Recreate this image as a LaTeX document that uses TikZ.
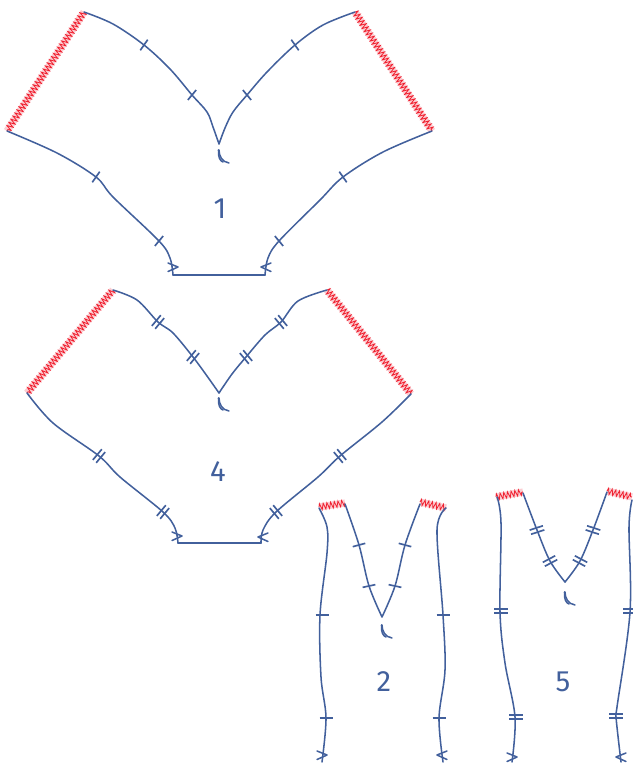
\documentclass[tikz,border=0pt]{standalone}
\usepackage{fontspec}
\setmainfont{Fira Sans}
\usetikzlibrary{decorations.pathmorphing}
\definecolor{seam}{HTML}{42609C}
\definecolor{zig}{HTML}{F0202F}
\definecolor{zigbg}{HTML}{FBCDD2}
\tikzset{
  seamline/.style={draw=seam,line width=1.15pt,line cap=round,line join=round},
  tickmark/.style={draw=seam,line width=1.25pt},
  piecelabel/.style={text=seam,font=\fontsize{22pt}{24pt}\selectfont,inner sep=0pt},
  zigband/.style={draw=zigbg,line width=5.4pt},
  zigline/.style={draw=zig,line width=.6pt,decorate,decoration={zigzag,segment length=2.8pt,amplitude=2.3pt}}
}
\newcommand{\sewn}[1]{\draw[seamline] plot[smooth,tension=.55] coordinates {#1};}
\newcommand{\tk}[3]{\draw[tickmark,shift={(#1,#2)},rotate=#3] (-6.5,0) -- (6.5,0);}
\newcommand{\dtk}[3]{\draw[tickmark,shift={(#1,#2)},rotate=#3] (-7,-2.2) -- (7,-2.2) (-7,2.2) -- (7,2.2);}
\newcommand{\zz}[4]{\draw[zigband] (#1,#2) -- (#3,#4); \draw[zigline] (#1,#2) -- (#3,#4);}
\newcommand{\notchmark}[2]{\begin{scope}[shift={(#1,#2)}]
  \draw[seamline] (0,0) .. controls (0,6) and (3,12) .. (10,13);
  \draw[seamline] (-.5,0) .. controls (-1,7) and (1,11) .. (4,12);
\end{scope}}
\newcommand{\gt}[3]{\draw[seamline] (#1-10,#2-4) -- (#1,#2) -- (#1-10,#2+4.5);}
\newcommand{\lt}[3]{\draw[seamline] (#1+10,#2-4) -- (#1,#2) -- (#1+10,#2+4.5);}
\begin{document}
\begin{tikzpicture}[x=.75pt,y=-.75pt]
\useasboundingbox (0,0) rectangle (632,763);
% piece 1
\zz{84}{12}{7}{131}
\zz{355}{12}{432}{131}
\sewn{(84,12) (113,24) (144,45) (170,69) (192,95) (207,112) (213,127) (219,144)}
\sewn{(355,12) (323,25) (295,45) (267,72) (247,95) (233,112) (225,128) (219,144)}
\sewn{(7,131) (57,153) (96,177) (113,197) (159,241) (170,258) (173,275)}
\sewn{(432,131) (383,152) (343,177) (320,200) (279,241) (268,258) (265,275)}
\draw[seamline] (173,275) -- (265,275);
\tk{144}{45}{55}\tk{192}{95}{50}\tk{96}{177}{55}\tk{159}{241}{50}
\tk{295}{45}{125}\tk{247}{95}{130}\tk{343}{177}{125}\tk{279}{241}{130}
\gt{178}{267}{}\lt{261}{267}{}
\notchmark{219}{150}
\node[piecelabel] (one) at (220,209) {1};
% piece 4
\zz{113}{290}{27}{393}
\zz{327}{290}{411}{394}
\sewn{(113,290) (137,300) (158,322) (173,333) (193,357) (207,376) (219,393)}
\sewn{(327,290) (298,301) (281,322) (265,335) (246,357) (232,374) (219,393)}
\sewn{(27,393) (53,423) (99,456) (120,477) (163,512) (175,528) (178,543)}
\sewn{(411,394) (382,422) (340,456) (318,477) (276,512) (263,530) (261,543)}
\draw[seamline] (178,543) -- (261,543);
\dtk{158}{322}{50}\dtk{193}{357}{50}\dtk{99}{456}{50}\dtk{163}{512}{50}
\dtk{281}{322}{130}\dtk{246}{357}{130}\dtk{340}{456}{130}\dtk{276}{512}{130}
\gt{182}{536}{}\lt{258}{537}{}
\notchmark{219}{398}
\node[piecelabel] (four) at (218,472) {4};
% piece 2
\zz{319}{507}{345}{503}
\zz{420}{502}{446}{508}
\sewn{(319,508) (327,527) (327,553) (320,615) (321,677) (326,718) (322,762)}
\sewn{(345,504) (359,545) (369,586) (382,617)}
\sewn{(420,504) (405,545) (395,586) (382,617)}
\sewn{(446,508) (437,530) (443,615) (445,670) (439,718) (443,762)}
\tk{359}{545}{15}\tk{369}{586}{12}\tk{405}{545}{165}\tk{395}{586}{168}
\tk{322}{615}{0}\tk{326}{718}{0}\tk{443}{615}{0}\tk{439}{718}{0}
\gt{327}{755}{}\lt{437}{755}{}
\notchmark{382}{625}
\node[piecelabel] (two) at (384,682) {2};
% piece 5
\zz{496}{497}{523}{492}
\zz{607}{491}{632}{497}
\sewn{(497,497) (501,523) (500,612) (505,663) (515,717) (512,762)}
\sewn{(523,493) (537,530) (550,561) (565,582)}
\sewn{(607,492) (593,530) (580,561) (565,582)}
\sewn{(632,500) (629,527) (630,612) (617,707) (616,717) (621,762)}
\dtk{537}{530}{18}\dtk{550}{561}{28}\dtk{593}{530}{162}\dtk{580}{561}{152}
\dtk{501}{611}{0}\dtk{516}{717}{0}\dtk{630}{611}{0}\dtk{616}{716}{0}
\gt{517}{757}{}\lt{616}{757}{}
\notchmark{565}{592}
\node[piecelabel] (five) at (563,682) {5};
\end{tikzpicture}
\end{document}
